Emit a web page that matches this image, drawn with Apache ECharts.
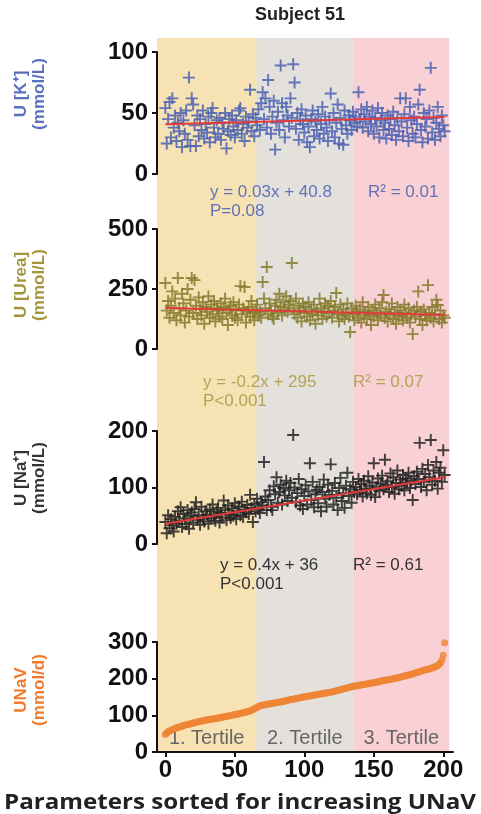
<!DOCTYPE html>
<html><head><meta charset="utf-8">
<script src="https://cdn.jsdelivr.net/npm/echarts@6/dist/echarts.min.js"></script>
<style>html,body{margin:0;padding:0;background:#fff}#c{width:481px;height:814px}</style>
</head><body><div id="c"></div>
<script>
// ---------- DATA ----------
const kValues = [
54,25,45,59,30,62,38,48,27,42,
35,50,22,44,33,52,28,79,23,62,
57,40,23,48,31,45,36,52,29,41,
34,47,26,50,54,38,30,44,33,46,
28,42,37,50,21,35,45,32,48,39,
30,44,36,52,54,33,41,27,47,38,
43,69,35,49,31,46,40,53,36,58,
67,45,62,38,77,55,33,47,60,20,
42,51,36,89,58,44,30,55,48,39,
62,46,90,75,37,50,28,44,53,41,
34,48,26,39,22,45,52,31,43,36,
49,29,41,55,33,47,38,27,44,66,
35,50,30,42,57,25,46,37,24,52,
40,33,48,44,36,51,42,47,39,67,
45,53,38,49,43,55,35,47,41,52,
33,46,39,54,30,44,50,36,42,29,
48,37,45,32,51,40,28,46,35,62,
43,31,49,62,38,27,55,44,33,47,
30,41,57,69,36,26,50,39,45,29,
52,87,34,46,28,42,55,37,31,48,
40,35];
const ureaValues = [
275,160,200,130,180,240,150,210,120,296,
170,140,230,190,110,160,250,135,205,296,
150,287,180,125,215,165,140,195,105,175,
155,220,130,185,145,200,115,170,160,135,
190,125,175,210,150,100,165,180,140,195,
130,160,120,185,262,145,170,258,110,155,
175,135,200,150,120,165,185,140,155,130,
279,210,170,342,145,190,160,135,125,180,
205,150,230,175,140,195,165,220,155,185,
200,358,170,145,210,130,180,160,115,190,
150,175,135,195,120,165,145,185,105,160,
140,210,170,125,155,190,135,180,150,200,
130,160,175,233,145,115,185,140,165,125,
150,190,135,71,170,145,120,180,155,130,
165,110,195,140,155,125,175,145,100,160,
135,185,150,120,170,140,195,225,130,155,
115,165,145,190,125,150,105,175,135,160,
140,120,185,150,130,170,110,145,62,160,
135,175,240,125,155,100,165,140,120,266,
150,130,175,115,145,205,183,125,160,110,
140,130];
const naValues = [
39,19,51,28,44,33,22,48,36,58,
41,65,30,53,45,35,60,27,49,56,
38,62,74,43,51,34,66,47,40,58,
52,36,61,45,70,49,41,57,64,38,
55,47,77,60,42,68,53,46,63,50,
72,44,58,66,51,75,48,61,56,69,
53,87,64,39,71,58,80,62,55,74,
68,145,84,60,78,95,66,60,102,88,
118,73,92,105,70,99,86,112,76,95,
108,82,193,100,74,90,115,68,97,62,
85,104,70,93,143,78,110,65,88,96,
72,101,58,92,114,80,66,105,87,141,
94,70,108,82,60,99,117,76,90,64,
103,126,85,97,73,110,92,101,88,115,
95,106,84,112,98,90,120,103,87,109,
143,83,100,116,94,107,121,97,149,104,
111,92,125,101,118,89,108,130,97,114,
103,122,95,116,109,126,99,112,78,120,
106,128,115,179,101,133,110,124,95,140,
118,184,105,130,112,145,98,126,135,110,
166,122];
const unavValues = [
48,52,55,57,59,61,63,64,66,67,
68,69,70,72,73,74,75,76,77,78,
79,80,81,82,83,83,84,85,86,87,
87,88,89,89,90,91,91,92,93,93,
94,95,96,96,97,98,99,99,100,101,
102,102,103,104,105,106,107,108,109,110,
111,112,114,116,118,120,122,124,126,127,
128,128,129,130,131,131,132,133,133,134,
135,135,136,137,137,138,139,140,141,142,
143,143,144,145,146,146,147,148,149,150,
150,151,152,152,153,154,154,155,156,156,
157,158,158,159,160,160,161,162,162,163,
164,165,166,167,168,169,170,171,172,173,
174,175,176,177,178,179,180,180,181,182,
182,183,184,184,185,186,186,187,188,188,
189,190,190,191,192,193,194,195,196,196,
197,198,198,199,200,201,201,202,203,204,
205,206,207,208,209,210,211,212,213,214,
216,217,218,219,220,222,223,224,225,226,
227,228,229,231,232,234,236,239,243,250,
264,298];
// regression line end values (at first and last sample)
const trendX = [0, 201];
const kTrend = [40.8, 46.8];
const ureaTrend = [171, 142];
const naTrend = [36, 118];
// tertile boundaries and names
const tertileEdges = [-6, 65.5, 135.3, 204.3];
const tertileNames = ['1. Tertile', '2. Tertile', '3. Tertile'];
// tick labels
const xTicks = [0, 50, 100, 150, 200];
const kTicks = [0, 50, 100];
const ureaTicks = [0, 250, 500];
const naTicks = [0, 100, 200];
const unavTicks = [0, 100, 200, 300];
// texts
const titleText = 'Subject 51';
const xTitle = 'Parameters sorted for increasing UNaV';
const yNames = ['U [K⁺]\n(mmol/L)', 'U [Urea]\n(mmol/L)', 'U [Na⁺]\n(mmol/L)', 'UNaV\n(mmol/d)'];
const eqTexts = [
  ['y = 0.03x + 40.8', 'P=0.08', 'R² = 0.01'],
  ['y = -0.2x + 295', 'P<0.001', 'R² = 0.07'],
  ['y = 0.4x + 36', 'P<0.001', 'R² = 0.61']
];

// ---------- CHART ----------
const FONT = '"Liberation Sans", Arial, sans-serif';
const X_MIN = -6, X_MAX = 207;
const LEFT = 157, WIDTH = 296;
const bandColors = ['#f7e2b4', '#e4e1dc', '#f9d0d3'];
const plusPath = 'path://M4.2,0H5.8V4.2H10V5.8H5.8V10H4.2V5.8H0V4.2H4.2Z';

const grids = [
  {left: LEFT, width: WIDTH, top: 38, height: 714},
  {left: LEFT, width: WIDTH, top: 52, height: 122},
  {left: LEFT, width: WIDTH, top: 229, height: 120},
  {left: LEFT, width: WIDTH, top: 431, height: 113},
  {left: LEFT, width: WIDTH, top: 642, height: 110}
];

function xAxisFor(i, visible) {
  const ax = {type: 'value', gridIndex: i, min: X_MIN, max: X_MAX, show: visible, splitLine: {show: false}};
  if (visible) {
    ax.z = 6;
    ax.zlevel = 1;
    ax.axisLine = {show: true, onZero: false, lineStyle: {color: '#111', width: 2}};
    ax.axisTick = {show: true, length: 5, lineStyle: {width: 2, color: '#111'}, customValues: xTicks};
    ax.axisLabel = {customValues: xTicks, margin: 6, color: '#111', fontFamily: FONT, fontWeight: 'bold', fontSize: 24};
  }
  return ax;
}
function yAxisFor(i, ticks) {
  return {
    type: 'value', gridIndex: i, min: ticks[0], max: ticks[ticks.length - 1], z: 6, zlevel: 1,
    interval: ticks[1] - ticks[0],
    splitLine: {show: false},
    axisLine: {show: true, onZero: false, lineStyle: {color: '#111', width: 2}},
    axisTick: {show: true, length: 5, lineStyle: {width: 2, color: '#111'}},
    axisLabel: {margin: 9, color: '#111', fontFamily: FONT, fontWeight: 'bold', fontSize: 24}
  };
}

const xAxes = [xAxisFor(0, false), xAxisFor(1, false), xAxisFor(2, false), xAxisFor(3, false), xAxisFor(4, true)];
const yAxes = [
  {type: 'value', gridIndex: 0, min: 0, max: 1, show: false},
  yAxisFor(1, kTicks), yAxisFor(2, ureaTicks), yAxisFor(3, naTicks), yAxisFor(4, unavTicks)
];

const toPts = arr => arr.map((v, i) => [i, v]);
const trendPts = arr => [[trendX[0], arr[0]], [trendX[1], arr[1]]];

// tertile background bands drawn through grid 0's axes
const bandData = tertileNames.map((name, k) => [tertileEdges[k], tertileEdges[k + 1], k]);
const bandSeries = {
  type: 'custom', xAxisIndex: 0, yAxisIndex: 0, silent: true, z: 0, clip: false,
  data: bandData,
  encode: {x: [0, 1]},
  renderItem: function (params, api) {
    const k = api.value(2);
    const p0 = api.coord([api.value(0), 1]);
    const p1 = api.coord([api.value(1), 0]);
    return {
      type: 'group',
      children: [
        {type: 'rect', shape: {x: p0[0], y: p0[1], width: p1[0] - p0[0] + (k < 2 ? 0.6 : 0), height: p1[1] - p0[1]},
          style: {fill: bandColors[k]}},
        {type: 'text', x: (p0[0] + p1[0]) / 2, y: p1[1] - 14,
          style: {text: tertileNames[k], textAlign: 'center', textVerticalAlign: 'middle',
            font: '20px ' + FONT, fill: '#666'}}
      ]
    };
  }
};

function scatter(idx, vals, color) {
  return {
    type: 'scatter', xAxisIndex: idx, yAxisIndex: idx, data: toPts(vals),
    symbol: plusPath, symbolSize: 12, itemStyle: {color: color, opacity: 0.85}, z: 3, silent: true
  };
}
function trend(idx, vals) {
  return {
    type: 'line', xAxisIndex: idx, yAxisIndex: idx, data: trendPts(vals),
    symbol: 'none', lineStyle: {color: '#e23a3a', width: 2}, z: 4, silent: true
  };
}

const series = [
  bandSeries,
  scatter(1, kValues, '#4a62b2'), trend(1, kTrend),
  scatter(2, ureaValues, '#857a2c'), trend(2, ureaTrend),
  scatter(3, naValues, '#222222'), trend(3, naTrend),
  {
    type: 'scatter', xAxisIndex: 4, yAxisIndex: 4, data: toPts(unavValues),
    symbol: 'circle', symbolSize: 7, itemStyle: {color: '#ef8436'}, z: 3, silent: true
  }
];

const nameColors = ['#5a6fbf', '#a4953a', '#333333', '#f07b2c'];
const nameY = [94, 285, 478, 690];
const eqColors = ['#6272b8', '#b3a455', '#333333'];
const eqY = [192, 382, 565];
const eqX = [210, 203, 220];
const r2X = [368, 353, 353];

const graphic = [
  {type: 'text', z: 20, x: 300, y: 15, style: {text: titleText, textAlign: 'center', textVerticalAlign: 'middle',
    font: 'bold 18px ' + FONT, fill: '#222'}},
  {type: 'text', z: 20, x: 240, y: 803, scaleX: 1.15, style: {text: xTitle, textAlign: 'center', textVerticalAlign: 'middle',
    font: 'bold 21px "Open Sans", sans-serif', fill: '#222'}}
];
yNames.forEach((t, i) => {
  graphic.push({type: 'text', z: 20, x: 30, y: nameY[i], rotation: Math.PI / 2,
    style: {text: t, textAlign: 'center', textVerticalAlign: 'middle', lineHeight: 18,
      font: 'bold 17px ' + FONT, fill: nameColors[i]}});
});
eqTexts.forEach((e, i) => {
  graphic.push({type: 'text', z: 20, x: eqX[i], y: eqY[i], style: {text: e[0], textAlign: 'left', textVerticalAlign: 'middle',
    font: '17px ' + FONT, fill: eqColors[i]}});
  graphic.push({type: 'text', z: 20, x: eqX[i], y: eqY[i] + 19, style: {text: e[1], textAlign: 'left', textVerticalAlign: 'middle',
    font: '17px ' + FONT, fill: eqColors[i]}});
  graphic.push({type: 'text', z: 20, x: r2X[i], y: eqY[i], style: {text: e[2], textAlign: 'left', textVerticalAlign: 'middle',
    font: '17px ' + FONT, fill: eqColors[i]}});
});

const chart = echarts.init(document.getElementById('c'), null, {renderer: 'canvas'});
chart.setOption({
  animation: false,
  grid: grids,
  xAxis: xAxes,
  yAxis: yAxes,
  series: series,
  graphic: {elements: graphic}
});
</script></body></html>
